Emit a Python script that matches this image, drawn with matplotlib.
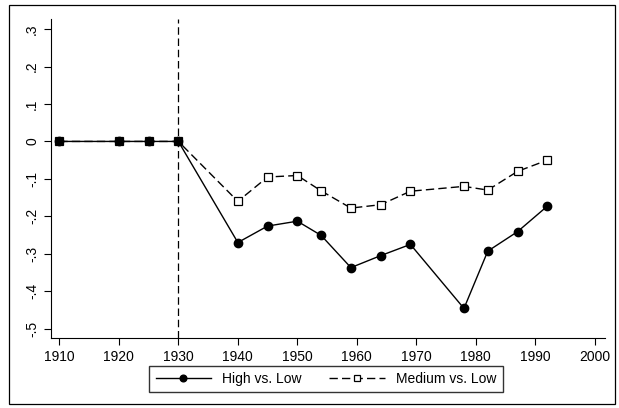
import matplotlib
matplotlib.use("Agg")
import matplotlib.pyplot as plt
from matplotlib.patches import Rectangle

plt.rcParams['font.family'] = ['Liberation Sans', 'DejaVu Sans']

years = [1910, 1920, 1925, 1930, 1940, 1945, 1950, 1954, 1959, 1964, 1969, 1978, 1982, 1987, 1992]
high = [0, 0, 0, 0, -0.270, -0.226, -0.213, -0.251, -0.337, -0.305, -0.275, -0.446, -0.293, -0.241, -0.173]
medium = [0, 0, 0, 0, -0.160, -0.095, -0.091, -0.132, -0.178, -0.169, -0.133, -0.120, -0.130, -0.080, -0.050]
xticks = list(range(1910, 2001, 10))
yticks = [-0.5, -0.4, -0.3, -0.2, -0.1, 0, 0.1, 0.2, 0.3]
ylabels = ['-.5', '-.4', '-.3', '-.2', '-.1', '0', '.1', '.2', '.3']

W, H = 619, 408
fig = plt.figure(figsize=(W / 100, H / 100), dpi=100)
fig.patches.append(Rectangle((9 / W, 1 - 404 / H), 606 / W, 399 / H, transform=fig.transFigure,
                             fill=False, edgecolor='black', lw=0.9))
ax = fig.add_axes([51 / W, 1 - 338 / H, 554 / W, 319 / H])

ax.plot(years, medium, color='black', lw=1, ls=(0, (6, 3)), marker='s', ms=5.5,
        mfc='white', mew=0.9, label='Medium vs. Low')
ax.plot(years, high, color='black', lw=1, marker='o', ms=6, label='High vs. Low')
ax.axvline(1930, color='black', lw=0.9, ls=(0, (6, 3)))

ax.set_xlim(1908.6, 2001.7)
ax.set_ylim(-0.525, 0.327)
ax.set_xticks(xticks)
ax.set_yticks(yticks)
ax.set_yticklabels(ylabels, rotation=90, va='center')
ax.tick_params(labelsize=10, length=5, width=0.8, colors='black')
ax.spines['top'].set_visible(False)
ax.spines['right'].set_visible(False)
for s in ('left', 'bottom'):
    ax.spines[s].set_linewidth(0.8)

handles, labels = ax.get_legend_handles_labels()
fig.legend(handles[::-1], labels[::-1], loc='center', bbox_to_anchor=(326 / W, 1 - 379 / H), ncol=2,
           fontsize=10, frameon=True, fancybox=False, edgecolor='black',
           handlelength=4, columnspacing=2, borderpad=0.45, markerscale=0.8)

fig.savefig('out.png', dpi=100)
